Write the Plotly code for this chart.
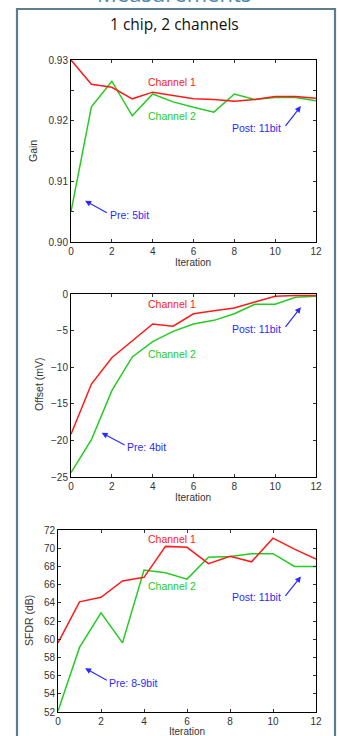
import plotly.graph_objects as go

W, H = 339, 736

iterations = list(range(13))

gain_ch1 = [0.9300, 0.9260, 0.9255, 0.9236, 0.9247, 0.9241, 0.9236, 0.9235, 0.9232, 0.9235, 0.9240, 0.9240, 0.9237]
gain_ch2 = [0.9050, 0.9223, 0.9265, 0.9208, 0.9244, 0.9231, 0.9222, 0.9214, 0.9244, 0.9235, 0.9238, 0.9238, 0.9233]

offset_ch1 = [-19.15, -12.3, -8.7, -6.4, -4.1, -4.4, -2.7, -2.3, -1.9, -1.1, -0.3, -0.2, -0.2]
offset_ch2 = [-24.4, -19.9, -13.2, -8.6, -6.5, -5.1, -4.1, -3.6, -2.7, -1.4, -1.4, -0.45, -0.3]

sfdr_ch1 = [59.6, 64.1, 64.6, 66.4, 66.8, 70.2, 70.1, 68.3, 69.1, 68.5, 71.1, 69.9, 68.8]
sfdr_ch2 = [52.1, 59.1, 62.9, 59.6, 67.6, 67.3, 66.6, 69.0, 69.1, 69.4, 69.4, 68.0, 68.0]

RED = "#ff1a1a"
GREEN = "#22cc22"
BLUE = "#2a2aff"
FONT = "Liberation Sans, Arial, sans-serif"


def px_x(p):
    return p / W


def px_y(p):
    return 1 - p / H


fig = go.Figure()

panels = [
    ("x", "y", gain_ch1, gain_ch2, 71, 60, 242, [0.90, 0.93], 0.01, 0.005),
    ("x2", "y2", offset_ch1, offset_ch2, 71, 294, 477, [-25, 0], 5, None),
    ("x3", "y3", sfdr_ch1, sfdr_ch2, 58, 530, 712, [52, 72], 2, None),
]

RIGHT = 316

for i, (xa, ya, c1, c2, left, top, bot, yr, ydt, ymin) in enumerate(panels):
    fig.add_trace(go.Scatter(x=iterations, y=c2, mode="lines", xaxis=xa, yaxis=ya,
                             line=dict(color=GREEN, width=1.5), showlegend=False))
    fig.add_trace(go.Scatter(x=iterations, y=c1, mode="lines", xaxis=xa, yaxis=ya,
                             line=dict(color=RED, width=1.5), showlegend=False))
    n = "" if i == 0 else str(i + 1)
    xaxis = dict(domain=[px_x(left), px_x(RIGHT)], range=[0, 12], dtick=2, tick0=0,
                 anchor=ya, showline=True, linecolor="black", linewidth=1, mirror="ticks",
                 ticks="inside", ticklen=3, tickcolor="#333", showgrid=False, zeroline=False,
                 tickfont=dict(family=FONT, size=10, color="#333"), automargin=False)
    yaxis = dict(domain=[px_y(bot), px_y(top)], range=yr, dtick=ydt, tick0=yr[0],
                 anchor=xa, showline=True, linecolor="black", linewidth=1, mirror="ticks",
                 ticks="inside", ticklen=3, tickcolor="#333", showgrid=False, zeroline=False,
                 tickfont=dict(family=FONT, size=10, color="#333"), automargin=False)
    if ymin:
        yaxis["tickformat"] = ".2f"
        yaxis["minor"] = dict(dtick=ymin, tick0=yr[0], ticks="inside", ticklen=3,
                              tickcolor="#333", showgrid=False)
    fig.layout["xaxis" + n] = xaxis
    fig.layout["yaxis" + n] = yaxis

annotations = []


def text(xref, yref, x, y, t, color, size=10.5):
    annotations.append(dict(xref=xref, yref=yref, x=x, y=y, text=t, showarrow=False,
                            font=dict(family=FONT, size=size, color=color),
                            xanchor="center", yanchor="middle"))


def arrow(xref, yref, x0, y0, x1, y1):
    annotations.append(dict(xref=xref, yref=yref, axref=xref, ayref=yref,
                            x=x1, y=y1, ax=x0, ay=y0, text="", showarrow=True,
                            arrowhead=2, arrowsize=1, arrowwidth=1.2, arrowcolor=BLUE))


# Gain panel
text("x", "y", 4.94, 0.9263, "Channel 1", RED)
text("x", "y", 4.94, 0.9208, "Channel 2", GREEN)
text("x", "y", 9.07, 0.9188, "Post: 11bit", BLUE)
arrow("x", "y", 10.45, 0.9189, 11.26, 0.9224)
text("x", "y", 2.86, 0.9044, "Pre: 5bit", BLUE)
arrow("x", "y", 1.83, 0.9047, 0.69, 0.9068)

# Offset panel
text("x2", "y2", 4.94, -1.37, "Channel 1", RED)
text("x2", "y2", 4.94, -8.2, "Channel 2", GREEN)
text("x2", "y2", 9.07, -4.75, "Post: 11bit", BLUE)
arrow("x2", "y2", 10.45, -4.7, 11.26, -1.8)
text("x2", "y2", 3.68, -20.9, "Pre: 4bit", BLUE)
arrow("x2", "y2", 2.7, -20.75, 1.5, -18.97)

# SFDR panel
text("x3", "y3", 5.29, 70.97, "Channel 1", RED)
text("x3", "y3", 5.29, 65.87, "Channel 2", GREEN)
text("x3", "y3", 9.22, 64.6, "Post: 11bit", BLUE)
arrow("x3", "y3", 10.52, 64.6, 11.3, 66.9)
text("x3", "y3", 3.51, 55.2, "Pre: 8-9bit", BLUE)
arrow("x3", "y3", 2.34, 55.4, 1.26, 56.8)

# Axis titles
for xc, yc, t in [(33, 151, "Gain"), (39, 385, "Offset (mV)"), (29, 621, "SFDR (dB)")]:
    annotations.append(dict(xref="paper", yref="paper", x=px_x(xc), y=px_y(yc), text=t,
                            textangle=-90, showarrow=False, xanchor="center", yanchor="middle",
                            font=dict(family=FONT, size=10.5, color="#333")))
for xc, yc in [(193, 262), (193, 497), (187, 731)]:
    annotations.append(dict(xref="paper", yref="paper", x=px_x(xc), y=px_y(yc), text="Iteration",
                            showarrow=False, xanchor="center", yanchor="middle",
                            font=dict(family=FONT, size=10, color="#333")))

# Slide titles
annotations.append(dict(xref="paper", yref="paper", x=px_x(174), y=px_y(24), text="1 chip, 2 channels",
                        showarrow=False, xanchor="center", yanchor="middle",
                        font=dict(family="Open Sans", size=15.5, color="#111")))
annotations.append(dict(xref="paper", yref="paper", x=px_x(174), y=px_y(9.5), text="Measurements",
                        showarrow=False, xanchor="center", yanchor="bottom",
                        font=dict(family="Open Sans", size=22, color="#4f8aa8")))

fig.update_layout(
    width=W, height=H,
    margin=dict(l=0, r=0, t=0, b=0),
    paper_bgcolor="white", plot_bgcolor="white",
    showlegend=False,
    annotations=annotations,
    shapes=[dict(type="rect", xref="paper", yref="paper", x0=px_x(17), x1=px_x(335),
                 y0=-0.02, y1=px_y(9), line=dict(color="#5b7d8e", width=2.2))],
)

fig.write_html("out.html")
